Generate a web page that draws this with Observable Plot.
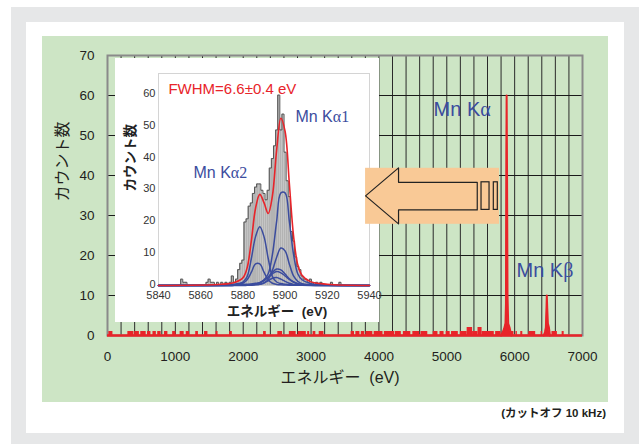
<!DOCTYPE html>
<html><head><meta charset="utf-8">
<script src="https://cdn.jsdelivr.net/npm/d3@7"></script>
<script src="https://cdn.jsdelivr.net/npm/@observablehq/plot@0.6"></script>
<style>
body{margin:0;background:#fff;width:639px;height:444px;overflow:hidden;position:relative;font-family:"Liberation Sans","Noto Sans CJK JP",sans-serif;}
#gray{position:absolute;left:11px;top:7px;width:628px;height:437px;background:#e6e7e8}
#white{position:absolute;left:26px;top:22px;width:598px;height:411px;background:#fff}
#green{position:absolute;left:42px;top:36px;width:566px;height:366px;background:#cde5c5}
#main{position:absolute;left:42px;top:36px}
#inset{position:absolute;left:115px;top:58px}
#overlay{position:absolute;left:42px;top:36px}
#cap{position:absolute;right:33px;top:404px;font-size:11.5px;font-weight:bold;color:#231f20;font-family:"Liberation Sans","Noto Sans CJK JP",sans-serif;white-space:nowrap}
svg{overflow:visible}
</style></head>
<body>
<div id="gray"></div><div id="white"></div><div id="green"></div>
<div id="main"></div><div id="inset"></div><div id="overlay"></div>
<div id="cap">(カットオフ 10 kHz)</div>
<script>
// ---------- main spectrum data ----------
const xTicks = [0,1000,2000,3000,4000,5000,6000,7000];
const yTicks = [0,10,20,30,40,50,60,70];
// noise blocks: energy from / to (eV) and counts
const noiseFrom  = [20,300,400,490,590,670,740,840,960,1070,1160,1300,1430,1600,1800,2300,2510,2680,2810,2950,3030,3120,3590,3660,3740,3810,3930,4080,4240,4360,4500,4620,4800,4900,4990,5070,5200,5300,5380,5460,5520,5720,5950,6020,6090,6210,6390,6550,6700];
const noiseTo    = [80,390,470,570,640,720,790,890,1010,1130,1210,1340,1480,1630,1840,2340,2580,2780,2930,2980,3070,3190,3640,3720,3790,3910,4060,4230,4330,4470,4600,4720,4870,4960,5050,5170,5300,5380,5460,5520,5700,5800,5990,6040,6120,6310,6410,6630,6730];
const noiseCount = [1,1,1,1,1,1,1,1,1,1,1,1,1,1,1,1,1,1,1,1,1,1,1,1,1,1,1,1,1,1,1,1,1,1,1,1,1,2,1,2,1,1,1,1,1,1,1,1,1];
// Mn Ka peak
const kaE     = [5800,5830,5850,5865,5872,5878,5882,5888,5895,5905,5925,5950];
const kaCount = [0,1,2,3,8,45,60,40,10,3,2,0];
// Mn Kb peak
const kbE     = [6430,6450,6460,6468,6474,6480,6490,6505,6520];
const kbCount = [0,1,2,6,10,7,3,2,0];

// ---------- inset data ----------
const insetXTicks = [5840,5860,5880,5900,5920,5940];
const insetYTicks = [0,10,20,30,40,50,60];
const histStart = 5840; // 1 eV bins
const histCounts = [
 0,0,0,0,0,0,0,0,0,0,
 0,2,1,1,0,0,0,0,0,0,
 0,0,0,1,2,1,1,0,1,0,
 1,0,1,0,1,3,1,2,5,7,
 8,20,21,25,26,29,31,32,32,30,
 29,27,30,37,40,44,49,60,49,54,
 42,33,28,17,14,9,6,5,3,2,
 2,1,2,1,0,1,0,1,0,0,
 0,0,1,0,0,0,1,0,0,0,
 0,0,0,0,0,0,0,0,0,0];
const fitE   = [5840,5870,5876,5880,5882,5884,5886,5888,5890,5892,5894,5896,5898,5900,5902,5904,5906,5908,5912,5920,5940];
const fitKa1a = [0,0.1,0.2,0.3,0.4,0.5,0.7,0.9,1.8,3.7,9.8,20.3,29.2,29.2,20.3,9.8,3.7,1.8,0.6,0.2,0];
const fitKa1b = [0,0.03,0.07,0.1,0.15,0.2,0.3,0.4,0.8,1.9,4.8,8.9,11.8,10.9,6.8,3.0,1.3,0.6,0.25,0.08,0];
const fitKa2a = [0,0.2,0.4,1.1,2.8,8.5,15.4,18.5,15.4,8.5,2.8,1.1,0.6,0.4,0.3,0.2,0.15,0.1,0.08,0.04,0];
const fitKa2b = [0,0.05,0.2,0.7,1.8,4.2,6.8,6.8,4.2,1.8,0.7,0.35,0.2,0.15,0.1,0.08,0.06,0.05,0.03,0.01,0];
const fitC5   = [0,0,0.05,0.1,0.15,0.25,0.45,0.8,1.5,2.7,4.2,5.2,4.9,3.6,2.1,1.1,0.55,0.3,0.1,0.03,0];
const fitC6   = [0,0,0.05,0.1,0.2,0.3,0.5,0.9,1.6,2.6,3.7,4.4,4.0,3.0,1.9,1.1,0.6,0.3,0.12,0.04,0];
const fitC7   = [0,0,0,0,0.05,0.1,0.2,0.4,0.8,1.5,2.3,2.5,2.0,1.3,0.7,0.35,0.18,0.1,0.04,0,0];
const fitTotal = [0,0.38,0.97,2.4,5.55,14.05,24.35,28.7,26.1,22.7,28.3,42.75,52.7,48.55,32.2,15.63,6.54,3.25,1.22,0.4,0];

// ---------- build tables ----------
const RED = "#e8242a", BLUE = "#3b4c9e", ORANGE = "#f9c996";
const noise = noiseFrom.map((f,i)=>({from:f, to:noiseTo[i], c:noiseCount[i]}));
const ka = kaE.map((e,i)=>({e, c:kaCount[i]}));
const kb = kbE.map((e,i)=>({e, c:kbCount[i]}));
const hist = histCounts.map((c,i)=>({e:histStart+i, c}));
const comps = [fitKa1a, fitKa1b, fitKa2a, fitKa2b, fitC5, fitC6, fitC7];
const fitRows = (arr)=>fitE.map((e,i)=>({e, c:arr[i]}));

// annotation: arrow (in data units of the main chart), drawn above the inset
const arrowBox = {x1:3803, x2:5777, y1:27.8, y2:41.8};
const arrowPts = [[3803,34.9],[4289,41.9],[4289,38.3],[5449,38.3],[5449,31.4],[4289,31.4],[4289,27.9],[3803,34.9]];
const arrowBars = [{x1:5512,x2:5630,y1:31.4,y2:38.3},{x1:5693,x2:5752,y1:31.4,y2:38.3}];

const FONT = '"Liberation Sans","Noto Sans CJK JP",sans-serif';
const mainFrame = {width:566, height:366, marginLeft:65, marginRight:26, marginTop:19, marginBottom:67};

const main = Plot.plot({
  ...mainFrame,
  style:{background:"transparent", fontFamily:FONT, fontSize:"13.5px", color:"#231f20", overflow:"visible"},
  x:{domain:[0,7000], ticks:xTicks, tickSize:0, tickPadding:16, tickFormat:d=>String(d), label:null},
  y:{domain:[0,70], ticks:yTicks, tickSize:0, tickPadding:13, label:null},
  marks:[
    Plot.ruleX(d3.range(0,7001,200), {stroke:"#2a2a2a", strokeWidth:1}),
    Plot.ruleY(yTicks, {stroke:"#1a1a1a", strokeWidth:1}),
    Plot.frame({stroke:"#8a8a8a", strokeWidth:2}),
    Plot.rectY(noise, {x1:"from", x2:"to", y:"c", fill:RED}),
    Plot.areaY(ka, {x:"e", y:"c", fill:RED}),
    Plot.line(ka, {x:"e", y:"c", stroke:RED, strokeWidth:2}),
    Plot.areaY(kb, {x:"e", y:"c", fill:RED}),
    Plot.line(kb, {x:"e", y:"c", stroke:RED, strokeWidth:2}),
    Plot.ruleY([0], {stroke:RED, strokeWidth:2.5}),
    Plot.text([{x:4805, y:56.5, t:"Mn Kα"}], {x:"x", y:"y", text:"t", textAnchor:"start", fill:BLUE, fontSize:20}),
    Plot.text([{x:6027, y:16.3, t:"Mn Kβ"}], {x:"x", y:"y", text:"t", textAnchor:"start", fill:BLUE, fontSize:20}),
    Plot.text(["エネルギー  (eV)"], {text:d=>d, frameAnchor:"bottom", dy:47, dx:-5, fontSize:16, fill:"#231f20"}),
    Plot.text(["カウント数"], {text:d=>d, frameAnchor:"left", dx:-45, dy:6, rotate:-90, fontSize:16, fill:"#231f20"})
  ]
});
document.getElementById("main").appendChild(main);

const insetMarks = [
  Plot.frame({stroke:"#d4d4d4"}),
  Plot.rectY(hist, {x1:d=>d.e-0.5, x2:d=>d.e+0.5, y:"c", fill:"#b3b3b3"}),
  Plot.line(hist, {x:"e", y:"c", curve:"step", stroke:"#555", strokeWidth:1})
];
comps.forEach(arr=>insetMarks.push(Plot.line(fitRows(arr), {x:"e", y:"c", curve:"catmull-rom", stroke:BLUE, strokeWidth:1.5})));
insetMarks.push(Plot.line(fitRows(fitTotal), {x:"e", y:"c", curve:"catmull-rom", stroke:RED, strokeWidth:1.6}));
insetMarks.push(
  Plot.axisX(insetXTicks, {tickSize:0, tickPadding:6, tickFormat:d=>String(d), label:null}),
  Plot.axisY(insetYTicks, {tickSize:0, tickPadding:3, dy:-1.5, label:null}),
  Plot.text([{x:5844.7, y:61.9, t:"FWHM=6.6±0.4 eV"}], {x:"x", y:"y", text:"t", textAnchor:"start", fill:RED, fontSize:15}),
  Plot.text([{x:5904.9, y:53.1, t:"Mn Kα1"}], {x:"x", y:"y", text:"t", textAnchor:"start", fill:BLUE, fontSize:16}),
  Plot.text([{x:5856.6, y:35.5, t:"Mn Kα2"}], {x:"x", y:"y", text:"t", textAnchor:"start", fill:BLUE, fontSize:16}),
  Plot.text(["エネルギー  (eV)"], {text:d=>d, frameAnchor:"bottom", dy:30, dx:13, fontSize:13.5, fontWeight:"bold", fill:"#222"}),
  Plot.text(["カウント数"], {text:d=>d, frameAnchor:"left", dx:-28, dy:12, rotate:-90, fontSize:13.5, fontWeight:"bold", fill:"#222"})
);
const inset = Plot.plot({
  width:264, height:264,
  marginLeft:43, marginRight:10, marginTop:15, marginBottom:37,
  style:{background:"#fff", fontFamily:FONT, fontSize:"11px", color:"#333", overflow:"visible"},
  x:{domain:[5840,5940]},
  y:{domain:[0,66.8]},
  marks:insetMarks
});
document.getElementById("inset").appendChild(inset);

// arrow overlay sharing the main chart's scales
const overlay = Plot.plot({
  ...mainFrame,
  style:{background:"transparent", overflow:"visible"},
  x:{domain:[0,7000], axis:null},
  y:{domain:[0,70], axis:null},
  marks:[
    Plot.rect([arrowBox], {x1:"x1", x2:"x2", y1:"y1", y2:"y2", fill:ORANGE}),
    Plot.line(arrowPts, {x:d=>d[0], y:d=>d[1], stroke:"#222", strokeWidth:1.2}),
    Plot.rect(arrowBars, {x1:"x1", x2:"x2", y1:"y1", y2:"y2", fill:"none", stroke:"#222", strokeWidth:1.2})
  ]
});
document.getElementById("overlay").appendChild(overlay);

// serif Greek letters as in the original
d3.selectAll("svg text").each(function(){
  const t = this.textContent;
  const m = t.match(/^(Mn K)([αβ]\d?)$/);
  if (m) {
    this.textContent = m[1];
    d3.select(this).append("tspan").attr("font-family","'Liberation Serif',serif").text(m[2]);
  }
});
</script>
</body></html>
